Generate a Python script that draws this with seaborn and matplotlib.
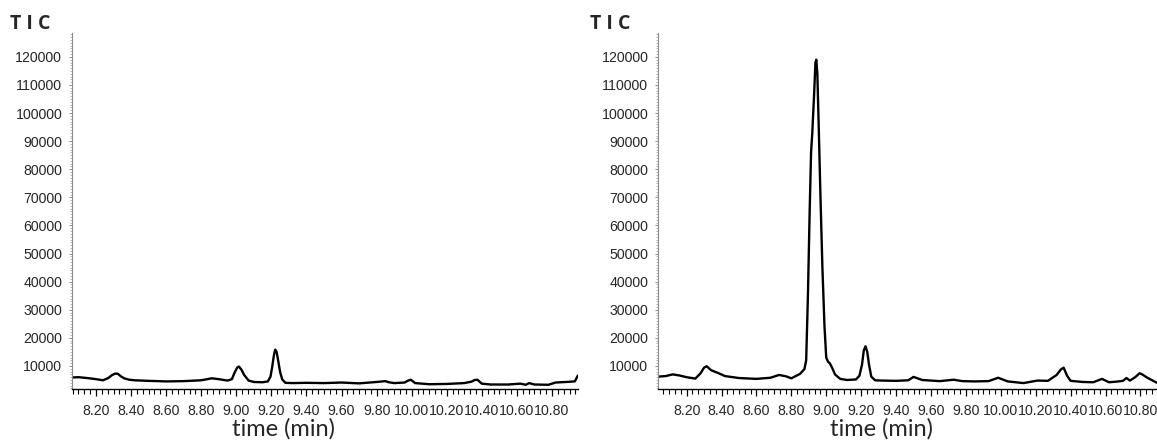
import numpy as np
import pandas as pd
import matplotlib
matplotlib.use("Agg")
import matplotlib.pyplot as plt
from matplotlib.ticker import MultipleLocator, FixedLocator, FuncFormatter
import seaborn as sns

# ---- data ----
left_time = [8.065, 8.10, 8.15, 8.20, 8.24, 8.27, 8.29, 8.31, 8.325, 8.34, 8.36, 8.39, 8.42, 8.50,
             8.60, 8.70, 8.80, 8.86, 8.90, 8.95, 8.975, 8.99, 9.005, 9.015, 9.03, 9.045, 9.07, 9.10,
             9.15, 9.18, 9.195, 9.205, 9.215, 9.222, 9.23, 9.24, 9.25, 9.262, 9.28, 9.32, 9.40, 9.50, 9.60,
             9.70, 9.80, 9.85, 9.87, 9.90, 9.96, 9.98, 9.995, 10.02, 10.10, 10.20, 10.30, 10.34,
             10.36, 10.375, 10.40, 10.45, 10.55, 10.62, 10.65, 10.67, 10.70, 10.78, 10.82, 10.88,
             10.93, 10.948]
left_tic = [5900, 6000, 5700, 5300, 4900, 5700, 6700, 7300, 7200, 6400, 5600, 5100, 4900, 4700,
            4500, 4600, 4900, 5600, 5300, 4800, 5300, 7600, 9400, 9800, 8600, 6800, 4800, 4300,
            4200, 4500, 6200, 9800, 14000, 15800, 15000, 11500, 7800, 5200, 4000, 3900, 4000, 3900, 4100,
            3800, 4300, 4600, 4200, 3900, 4100, 4800, 5100, 3900, 3500, 3600, 3900, 4400,
            5000, 5100, 3700, 3400, 3400, 3700, 3300, 3900, 3400, 3300, 4100, 4300,
            4500, 6600]

right_time = [8.036, 8.08, 8.12, 8.16, 8.20, 8.25, 8.28, 8.30, 8.315, 8.34, 8.38, 8.42, 8.50,
              8.60, 8.68, 8.73, 8.77, 8.80, 8.85, 8.875, 8.885, 8.895, 8.905, 8.913, 8.92, 8.93,
              8.938, 8.943, 8.949, 8.957, 8.967, 8.978, 8.99, 9.0, 9.01, 9.02, 9.035, 9.05, 9.08, 9.12,
              9.17, 9.19, 9.205, 9.215, 9.225, 9.235, 9.245, 9.258, 9.28, 9.32, 9.40, 9.47, 9.50,
              9.55, 9.65, 9.73, 9.78, 9.85, 9.93, 9.985, 10.04, 10.13, 10.21, 10.27, 10.32, 10.345,
              10.36, 10.38, 10.40, 10.47, 10.53, 10.58, 10.62, 10.66, 10.70, 10.72, 10.74, 10.77,
              10.795, 10.81, 10.84, 10.895]
right_tic = [6200, 6400, 7000, 6600, 6000, 5500, 7400, 9400, 9900, 8500, 7500, 6400, 5700,
             5400, 5800, 6800, 6300, 5600, 7200, 8900, 12000, 35000, 65000, 86000, 93000, 106000,
             118000, 119000, 114000, 95000, 70000, 45000, 24000, 13000, 11500, 11000, 9200, 7000, 5400, 5000,
             5200, 6500, 10500, 15500, 17000, 15000, 10500, 6200, 4900, 4800, 4700, 4900, 6100,
             5000, 4600, 5100, 4600, 4500, 4600, 5800, 4500, 3900, 4800, 4700, 6800, 8800,
             9400, 6500, 4700, 4300, 4200, 5400, 4200, 4400, 4700, 5700, 4800, 6000,
             7400, 7000, 5800, 4000]

x_tick_labels = ["8.20", "8.40", "8.60", "8.80", "9.00", "9.20", "9.40", "9.60",
                 "9.80", "10.00", "10.20", "10.40", "10.60", "10.80"]
y_ticks = [10000, 20000, 30000, 40000, 50000, 60000, 70000, 80000, 90000,
           100000, 110000, 120000]

sns.set_style("white")
plt.rcParams["font.family"] = ["Liberation Sans", "DejaVu Sans"]

fig = plt.figure(figsize=(11.57, 4.43), dpi=100)
ax_l = fig.add_axes([0.0622, 0.1219, 0.4373, 0.8036])
ax_r = fig.add_axes([0.5687, 0.1219, 0.4313, 0.8036])

panels = [
    (ax_l, left_time, left_tic, (8.063, 10.948), 0.0086, 0.2005),
    (ax_r, right_time, right_tic, (8.036, 10.895), 0.5100, 0.7174),
]

xt = [float(s) for s in x_tick_labels]

for ax, t, v, xlim, tic_x, lab_x in panels:
    df = pd.DataFrame({"time": t, "TIC": v})
    sns.lineplot(data=df, x="time", y="TIC", ax=ax, color="black", linewidth=1.7,
                 estimator=None, sort=False)
    ax.set_xlim(*xlim)
    ax.set_ylim(1800, 128500)
    ax.set_xlabel("")
    ax.set_ylabel("")
    for s in ["top", "right"]:
        ax.spines[s].set_visible(False)
    ax.spines["bottom"].set_color("black")
    ax.spines["bottom"].set_linewidth(1.0)
    ax.spines["left"].set_color("#8a8a8a")
    ax.spines["left"].set_linewidth(0.8)
    ax.xaxis.set_major_locator(FixedLocator(xt))
    ax.set_xticklabels(x_tick_labels)
    ax.xaxis.set_minor_locator(MultipleLocator(0.2 / 6))
    ax.yaxis.set_major_locator(FixedLocator(y_ticks))
    ax.yaxis.set_major_formatter(FuncFormatter(lambda val, pos: f"{int(val)}"))
    ax.yaxis.set_minor_locator(MultipleLocator(1000))
    ax.tick_params(axis="x", which="major", direction="out", length=5, width=0.9,
                   color="black", labelsize=10.2, pad=6, bottom=True)
    ax.tick_params(axis="x", which="minor", direction="out", length=3.5, width=0.8,
                   color="black", bottom=True)
    ax.tick_params(axis="y", which="major", direction="out", length=2, width=0.6,
                   color="#777777", labelsize=10.2, pad=5, left=True)
    ax.tick_params(axis="y", which="minor", direction="out", length=1.5, width=0.5,
                   color="#999999", left=True)
    ax.grid(False)
    fig.text(tic_x, 0.945, "T I C", fontsize=14, fontweight="bold",
             family=["Open Sans", "DejaVu Sans"], ha="left", va="center")
    fig.text(lab_x, 0.032, "time (min)", fontsize=17,
             family=["Lato", "DejaVu Sans"], ha="left", va="center")

fig.savefig("out.png", dpi=100)
